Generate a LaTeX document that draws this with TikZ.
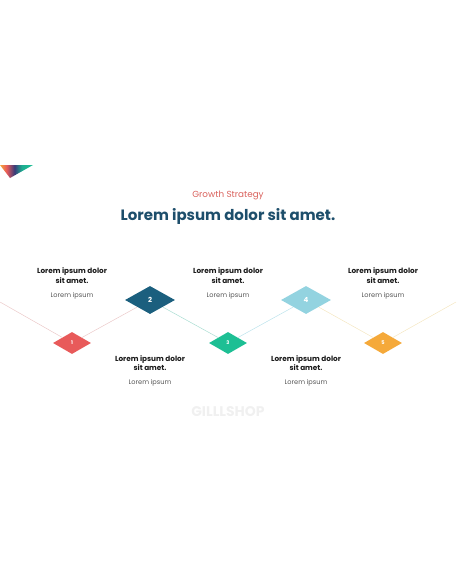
\documentclass[tikz,border=0pt]{standalone}
\usepackage{fontspec}
\setmainfont{Poppins}
\usetikzlibrary{shapes.geometric}

\definecolor{redd}{HTML}{E85A5A}
\definecolor{navy}{HTML}{1B5F7E}
\definecolor{teal}{HTML}{1DBF94}
\definecolor{sky}{HTML}{93D3E0}
\definecolor{amber}{HTML}{F5A93A}
\definecolor{titleblue}{HTML}{1D4E6B}
\definecolor{subred}{HTML}{D9615C}
\definecolor{greytext}{HTML}{555555}
\definecolor{plum}{HTML}{3A3A78}
\definecolor{pinkline}{HTML}{EBC9C9}
\definecolor{tealline}{HTML}{A9DDD2}
\definecolor{skyline}{HTML}{BCE3EC}
\definecolor{sandline}{HTML}{F4E6C2}

\pgfdeclarehorizontalshading{cornerfade}{100bp}{color(0bp)=(amber); color(25bp)=(amber); color(35bp)=(redd); color(47bp)=(plum); color(58bp)=(teal!80!navy); color(75bp)=(teal); color(100bp)=(teal)}

\tikzset{
  smalldiam/.style={diamond, draw=none, inner sep=0pt, minimum width=38pt, minimum height=22pt, text=white, font=\fontsize{5}{6}\selectfont\bfseries},
  bigdiam/.style={diamond, draw=none, inner sep=0pt, minimum width=50pt, minimum height=28pt, text=white, font=\fontsize{7}{8}\selectfont\bfseries},
  headtext/.style={align=center, text=black!90, font=\fontsize{7.3}{9.5}\selectfont\bfseries},
  subtext/.style={text=greytext, font=\fontsize{6.6}{8}\selectfont}
}

\begin{document}
\begin{tikzpicture}[x=1pt, y=-1pt]

\useasboundingbox (0,0) rectangle (456,586);

% corner triangle
\shade[shading=cornerfade] (0,165) -- (33,165) -- (10,178) -- cycle;

% title
\node[text=subred, font=\fontsize{8.8}{10}\selectfont] (sub) at (228,195) {Growth Strategy};
\node[text=titleblue, font=\fontsize{15}{17}\selectfont\bfseries] (title) at (228,216) {Lorem ipsum dolor sit amet.};

% diamonds
\node[smalldiam, fill=redd] (d1) at (72,343) {1};
\node[bigdiam, fill=navy] (d2) at (150,300) {2};
\node[smalldiam, fill=teal] (d3) at (228,343) {3};
\node[bigdiam, fill=sky] (d4) at (306,300) {4};
\node[smalldiam, fill=amber] (d5) at (383,343) {5};

\coordinate (l0) at (0,302);
\coordinate (r0) at (456,302);

\draw[line width=0.5pt, pinkline] (l0) to (d1);
\draw[line width=0.5pt, pinkline] (d1) to (d2);
\draw[line width=0.5pt, tealline] (d2) to (d3);
\draw[line width=0.5pt, skyline] (d3) to (d4);
\draw[line width=0.5pt, sandline] (d4) to (d5);
\draw[line width=0.5pt, sandline] (d5) to (r0);

% labels above
\node[headtext] (h1) at (72,275.5) {Lorem ipsum dolor\\sit amet.};
\node[subtext] (s1) at (72,295.5) {Lorem ipsum};
\node[headtext] (h3) at (228,275.5) {Lorem ipsum dolor\\sit amet.};
\node[subtext] (s3) at (228,295.5) {Lorem ipsum};
\node[headtext] (h5) at (383,275.5) {Lorem ipsum dolor\\sit amet.};
\node[subtext] (s5) at (383,295.5) {Lorem ipsum};

% labels below
\node[headtext] (h2) at (150,363) {Lorem ipsum dolor\\sit amet.};
\node[subtext] (s2) at (150,383) {Lorem ipsum};
\node[headtext] (h4) at (306,363) {Lorem ipsum dolor\\sit amet.};
\node[subtext] (s4) at (306,383) {Lorem ipsum};

% watermark
\node[text=black!6, font=\fontsize{14}{16}\selectfont\bfseries] (wm) at (228,412) {GILLLSHOP};

\end{tikzpicture}
\end{document}
